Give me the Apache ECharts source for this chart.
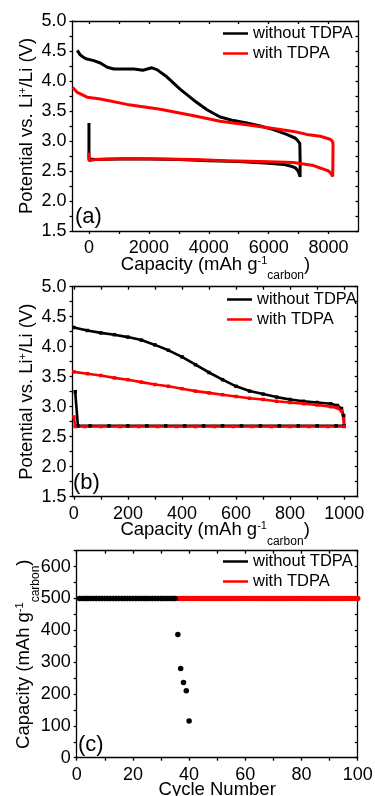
<!DOCTYPE html>
<html>
<head>
<meta charset="utf-8">
<script src="https://cdn.jsdelivr.net/npm/echarts@6/dist/echarts.min.js"></script>
<style>
  html, body { margin: 0; padding: 0; background: #fff; }
  #chart { width: 375px; height: 796px; }
</style>
</head>
<body>
<div id="chart"></div>
<script>
// (a) full discharge/charge, capacity in mAh/g carbon vs potential (V)
const capA_without = [0, 0, 200, 1000, 2000, 3000, 4000, 5000, 6000, 6500, 6750, 6900, 6980, 7030, 7050, 7050, 7040, 6950, 6880, 6600, 6160, 5720, 5270, 4830, 4380, 3940, 3500, 3050, 2600, 2270, 2100, 1950, 1800, 1500, 1200, 830, 610, 380, 160, -100, -200, -300, -390];
const potA_without = [3.30, 2.70, 2.69, 2.70, 2.70, 2.69, 2.67, 2.66, 2.63, 2.61, 2.58, 2.55, 2.50, 2.44, 2.40, 2.70, 2.96, 3.02, 3.05, 3.11, 3.19, 3.25, 3.30, 3.34, 3.40, 3.52, 3.68, 3.86, 4.07, 4.19, 4.22, 4.20, 4.18, 4.20, 4.20, 4.20, 4.23, 4.30, 4.34, 4.37, 4.40, 4.44, 4.51];
const capA_with = [0, 0, 200, 1270, 2400, 3500, 4600, 5700, 6300, 6830, 7270, 7500, 7720, 7900, 8000, 8080, 8140, 8150, 8150, 8120, 8050, 7720, 7270, 6830, 6160, 5270, 4380, 3500, 2380, 1270, 380, -60, -390, -540];
const potA_with = [2.81, 2.67, 2.69, 2.71, 2.70, 2.69, 2.67, 2.66, 2.65, 2.64, 2.61, 2.59, 2.55, 2.52, 2.50, 2.46, 2.41, 2.40, 2.96, 3.00, 3.03, 3.08, 3.11, 3.16, 3.21, 3.27, 3.33, 3.42, 3.53, 3.61, 3.70, 3.73, 3.81, 3.89];

// (b) capacity-limited to 1000 mAh/g
const capB_without = [5, 15, 60, 130, 200, 270, 340, 410, 480, 550, 620, 690, 760, 830, 900, 970, 1000, 998, 990, 975, 950, 900, 850, 800, 750, 700, 650, 600, 550, 500, 450, 400, 350, 300, 250, 200, 150, 100, 50, 0];
const potB_without = [3.25, 2.68, 2.68, 2.68, 2.68, 2.68, 2.68, 2.68, 2.68, 2.68, 2.68, 2.68, 2.68, 2.68, 2.68, 2.68, 2.68, 2.85, 2.97, 3.02, 3.05, 3.07, 3.09, 3.12, 3.16, 3.21, 3.26, 3.34, 3.45, 3.57, 3.70, 3.83, 3.94, 4.03, 4.11, 4.16, 4.20, 4.23, 4.27, 4.32];
const capB_with = [0, 5, 40, 100, 170, 240, 310, 380, 450, 520, 590, 660, 730, 800, 870, 940, 1000, 998, 990, 975, 950, 900, 850, 800, 750, 700, 650, 600, 550, 500, 450, 400, 350, 300, 250, 200, 150, 100, 50, 0];
const potB_with = [2.83, 2.67, 2.67, 2.67, 2.67, 2.67, 2.67, 2.67, 2.67, 2.67, 2.67, 2.67, 2.67, 2.67, 2.67, 2.67, 2.67, 2.80, 2.93, 2.98, 3.00, 3.03, 3.05, 3.07, 3.09, 3.12, 3.14, 3.17, 3.20, 3.23, 3.26, 3.30, 3.34, 3.37, 3.41, 3.45, 3.48, 3.52, 3.55, 3.58];

// (c) discharge capacity per cycle (cycle n = index + 1)
const cycC_without = [
  500, 500, 500, 500, 500, 500, 500, 500, 500, 500,
  500, 500, 500, 500, 500, 500, 500, 500, 500, 500,
  500, 500, 500, 500, 500, 500, 500, 500, 500, 500,
  500, 500, 500, 500, 500, 387, 280, 236, 210, 115
];
const cycC_with = [
  500, 500, 500, 500, 500, 500, 500, 500, 500, 500,
  500, 500, 500, 500, 500, 500, 500, 500, 500, 500,
  500, 500, 500, 500, 500, 500, 500, 500, 500, 500,
  500, 500, 500, 500, 500, 500, 500, 500, 500, 500,
  500, 500, 500, 500, 500, 500, 500, 500, 500, 500,
  500, 500, 500, 500, 500, 500, 500, 500, 500, 500,
  500, 500, 500, 500, 500, 500, 500, 500, 500, 500,
  500, 500, 500, 500, 500, 500, 500, 500, 500, 500,
  500, 500, 500, 500, 500, 500, 500, 500, 500, 500,
  500, 500, 500, 500, 500, 500, 500, 500, 500, 500
];

// ticks and labels
const xTicksA = [0, 1000, 2000, 3000, 4000, 5000, 6000, 7000, 8000];
const xLabelsA = [0, 2000, 4000, 6000, 8000];
const xTicksB = [0, 100, 200, 300, 400, 500, 600, 700, 800, 900, 1000];
const xLabelsB = [0, 200, 400, 600, 800, 1000];
const yTicksV = [1.5, 1.75, 2.0, 2.25, 2.5, 2.75, 3.0, 3.25, 3.5, 3.75, 4.0, 4.25, 4.5, 4.75, 5.0];
const yLabelsV = [1.5, 2.0, 2.5, 3.0, 3.5, 4.0, 4.5, 5.0];
const xTicksC = [0, 10, 20, 30, 40, 50, 60, 70, 80, 90, 100];
const xLabelsC = [0, 20, 40, 60, 80, 100];
const yTicksC = [0, 50, 100, 150, 200, 250, 300, 350, 400, 450, 500, 550, 600, 650];
const yLabelsC = [0, 100, 200, 300, 400, 500, 600];

const legendNames = ["without TDPA", "with TDPA"];

const FONT = '"Liberation Sans", Arial, sans-serif';
const BLACK = "#000000";
const RED = "#ff0000";

const zip = (xs, ys) => xs.map((x, i) => [x, ys[i]]);
const byCycle = (ys) => ys.map((y, i) => [i + 1, y]);

function nameStyle(size) {
  return {
    fontFamily: FONT, fontSize: size, color: BLACK,
    rich: {
      t: { fontFamily: FONT, fontSize: size, color: BLACK, lineHeight: size + 4, verticalAlign: "top" },
      sup: { fontFamily: FONT, fontSize: Math.round(size * 0.6), color: BLACK, lineHeight: Math.round(size * 0.6), verticalAlign: "top" },
      sub: { fontFamily: FONT, fontSize: Math.round(size * 0.65), color: BLACK, lineHeight: size * 1.45, verticalAlign: "bottom" },
    },
  };
}

const lineStyle = { color: BLACK, width: 1.3 };
const plainNum = (v) => String(v);

function xPair(grid, min, max, ticks, labels, name, nameGap) {
  return [
    {
      type: "value", gridIndex: grid, position: "bottom", min, max,
      axisLine: { show: true, onZero: false, lineStyle },
      axisTick: { show: true, inside: false, length: 3, customValues: ticks, lineStyle },
      axisLabel: { customValues: labels, formatter: plainNum, color: BLACK, fontFamily: FONT, fontSize: 18, margin: 8 },
      splitLine: { show: false },
      name, nameLocation: "middle", nameGap, nameMoveOverlap: false, nameTextStyle: nameStyle(18.5),
    },
    {
      type: "value", gridIndex: grid, position: "top", min, max,
      axisLine: { show: true, onZero: false, lineStyle },
      axisTick: { show: true, inside: true, length: 3, customValues: ticks, lineStyle },
      axisLabel: { show: false },
      splitLine: { show: false },
    },
  ];
}

function yPair(grid, min, max, ticks, labels, fmt, name, nameGap) {
  return [
    {
      type: "value", gridIndex: grid, position: "left", min, max,
      axisLine: { show: true, onZero: false, lineStyle },
      axisTick: { show: true, inside: false, length: 3, customValues: ticks, lineStyle },
      axisLabel: { customValues: labels, formatter: fmt, color: BLACK, fontFamily: FONT, fontSize: 18, margin: 6 },
      splitLine: { show: false },
      name, nameLocation: "middle", nameGap, nameMoveOverlap: false, nameTextStyle: nameStyle(18.5),
    },
    {
      type: "value", gridIndex: grid, position: "right", min, max,
      axisLine: { show: true, onZero: false, lineStyle },
      axisTick: { show: true, inside: true, length: 3, customValues: ticks, lineStyle },
      axisLabel: { show: false },
      splitLine: { show: false },
    },
  ];
}

const capName = "{t|Capacity (mAh g}{sup|-1}{sub|carbon}{t|)}";
const potName = "{t|Potential vs. Li}{sup|+}{t|/Li (V)}";
const fmtV = (v) => Number(v).toFixed(1);

const xAxis = [
  ...xPair(0, -550, 9000, xTicksA, xLabelsA, capName, 24),
  ...xPair(1, -5, 1050, xTicksB, xLabelsB, capName, 24),
  ...xPair(2, 0, 100, xTicksC, xLabelsC, "Cycle Number", 23),
];
xAxis[4].nameTextStyle = { fontFamily: FONT, fontSize: 18.5, color: BLACK };

const yAxis = [
  ...yPair(0, 1.5, 5.0, yTicksV, yLabelsV, fmtV, potName, 33),
  ...yPair(1, 1.5, 5.0, yTicksV, yLabelsV, fmtV, potName, 33),
  ...yPair(2, 0, 650, yTicksC, yLabelsC, plainNum, capName, 35),
];

function curve(name, color, xi, yi, data, width) {
  return {
    name, type: "line", xAxisIndex: xi, yAxisIndex: yi, data,
    showSymbol: false, symbol: "none", smooth: false,
    lineStyle: { color, width }, itemStyle: { color },
    clip: true, z: 2,
  };
}

function dotted(name, color, xi, yi, data) {
  return {
    name, type: "line", xAxisIndex: xi, yAxisIndex: yi, data,
    symbol: "rect", symbolSize: 3.5, showSymbol: true, showAllSymbol: true,
    lineStyle: { color, width: 2.6 }, itemStyle: { color },
    clip: true, z: 2,
  };
}

function dots(name, color, xi, yi, data) {
  return {
    name, type: "scatter", xAxisIndex: xi, yAxisIndex: yi, data,
    symbol: "circle", symbolSize: 5.5, itemStyle: { color, opacity: 1 },
    clip: true, z: 2,
  };
}

const series = [
  curve(legendNames[0], BLACK, 0, 0, zip(capA_without, potA_without), 3),
  curve(legendNames[1], RED, 0, 0, zip(capA_with, potA_with), 3),
  dotted(legendNames[0], BLACK, 2, 2, zip(capB_without, potB_without)),
  dotted(legendNames[1], RED, 2, 2, zip(capB_with, potB_with)),
  dots(legendNames[1], RED, 4, 4, byCycle(cycC_with)),
  dots(legendNames[0], BLACK, 4, 4, byCycle(cycC_without)),
];

function legendAt(left, top) {
  return {
    data: legendNames, orient: "vertical", left, top, padding: 0, itemGap: 3,
    icon: "rect", itemWidth: 25, itemHeight: 2.5,
    textStyle: { color: BLACK, fontFamily: FONT, fontSize: 16.5 },
    selectedMode: false,
  };
}

function panelTag(text, left, top) {
  return { text, left, top, padding: 0, textStyle: { color: BLACK, fontFamily: FONT, fontSize: 22, fontWeight: "normal" } };
}

const chart = echarts.init(document.getElementById("chart"));
chart.setOption({
  animation: false,
  backgroundColor: "#ffffff",
  title: [panelTag("(a)", 75, 206), panelTag("(b)", 73, 472), panelTag("(c)", 78, 734)],
  legend: [legendAt(223, 25), legendAt(227, 291), legendAt(223, 553)],
  grid: [
    { left: 72.5, top: 21, width: 286, height: 210, outerBoundsMode: "none" },
    { left: 72.5, top: 286.7, width: 285.2, height: 210, outerBoundsMode: "none" },
    { left: 76.7, top: 550.7, width: 281, height: 207, outerBoundsMode: "none" },
  ],
  xAxis,
  yAxis,
  series,
});
</script>
</body>
</html>
